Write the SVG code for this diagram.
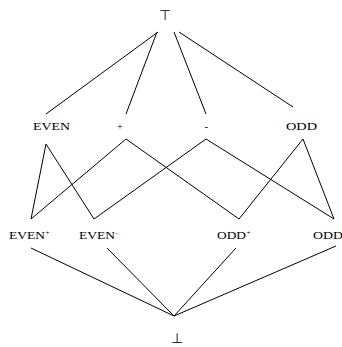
<svg xmlns="http://www.w3.org/2000/svg" width="342" height="347" viewBox="0 0 342 347">
<style>
.lbl{font-family:"Liberation Serif","Times New Roman",serif;font-size:10.5px;fill:#000}
.sup{font-family:"Liberation Serif","Times New Roman",serif;font-size:7px;fill:#000}
.sym{font-family:"DejaVu Sans",sans-serif;font-size:14px;fill:#000;text-anchor:middle}
.edges line{stroke:#000;stroke-width:1;fill:none}
</style>
<rect width="342" height="347" fill="#fff"/>
<g id="connectors" class="edges">
<line x1="158" y1="32" x2="46" y2="114"/>
<line x1="157" y1="32" x2="126" y2="114"/>
<line x1="174" y1="32" x2="206" y2="114"/>
<line x1="179" y1="32" x2="293" y2="107"/>
<line x1="46" y1="144" x2="31" y2="219"/>
<line x1="46" y1="144" x2="94" y2="219"/>
<line x1="126" y1="139" x2="31" y2="219"/>
<line x1="126" y1="139" x2="239" y2="219"/>
<line x1="206" y1="139" x2="94" y2="219"/>
<line x1="206" y1="139" x2="334" y2="219"/>
<line x1="303" y1="139" x2="239" y2="219"/>
<line x1="303" y1="139" x2="334" y2="219"/>
<line x1="31" y1="248" x2="174" y2="316"/>
<line x1="107" y1="248" x2="174" y2="316"/>
<line x1="236" y1="248" x2="174" y2="316"/>
<line x1="336" y1="246" x2="174" y2="316"/>
</g>
<g id="top"><text class="sym" x="165" y="19.5">⊤</text></g>
<g id="even"><text class="lbl" x="33" y="129.5" textLength="37" lengthAdjust="spacingAndGlyphs">EVEN</text></g>
<g id="plus"><text class="lbl" x="117" y="129.5">+</text></g>
<g id="minus"><text class="lbl" x="204.5" y="129.5">-</text></g>
<g id="odd"><text class="lbl" x="286" y="129.5" textLength="31" lengthAdjust="spacingAndGlyphs">ODD</text></g>
<g id="even-plus"><text class="lbl" x="9" y="238.5" textLength="36" lengthAdjust="spacingAndGlyphs">EVEN</text><text class="sup" x="45.5" y="235">+</text></g>
<g id="even-minus"><text class="lbl" x="79" y="238.5" textLength="36" lengthAdjust="spacingAndGlyphs">EVEN</text><text class="sup" x="115.5" y="235">-</text></g>
<g id="odd-plus"><text class="lbl" x="217" y="238.5" textLength="29" lengthAdjust="spacingAndGlyphs">ODD</text><text class="sup" x="246.5" y="235">+</text></g>
<g id="odd-minus"><text class="lbl" x="313" y="238.5" textLength="30" lengthAdjust="spacingAndGlyphs">ODD</text></g>
<g id="bottom"><text class="sym" x="177" y="343">⊥</text></g>
</svg>
